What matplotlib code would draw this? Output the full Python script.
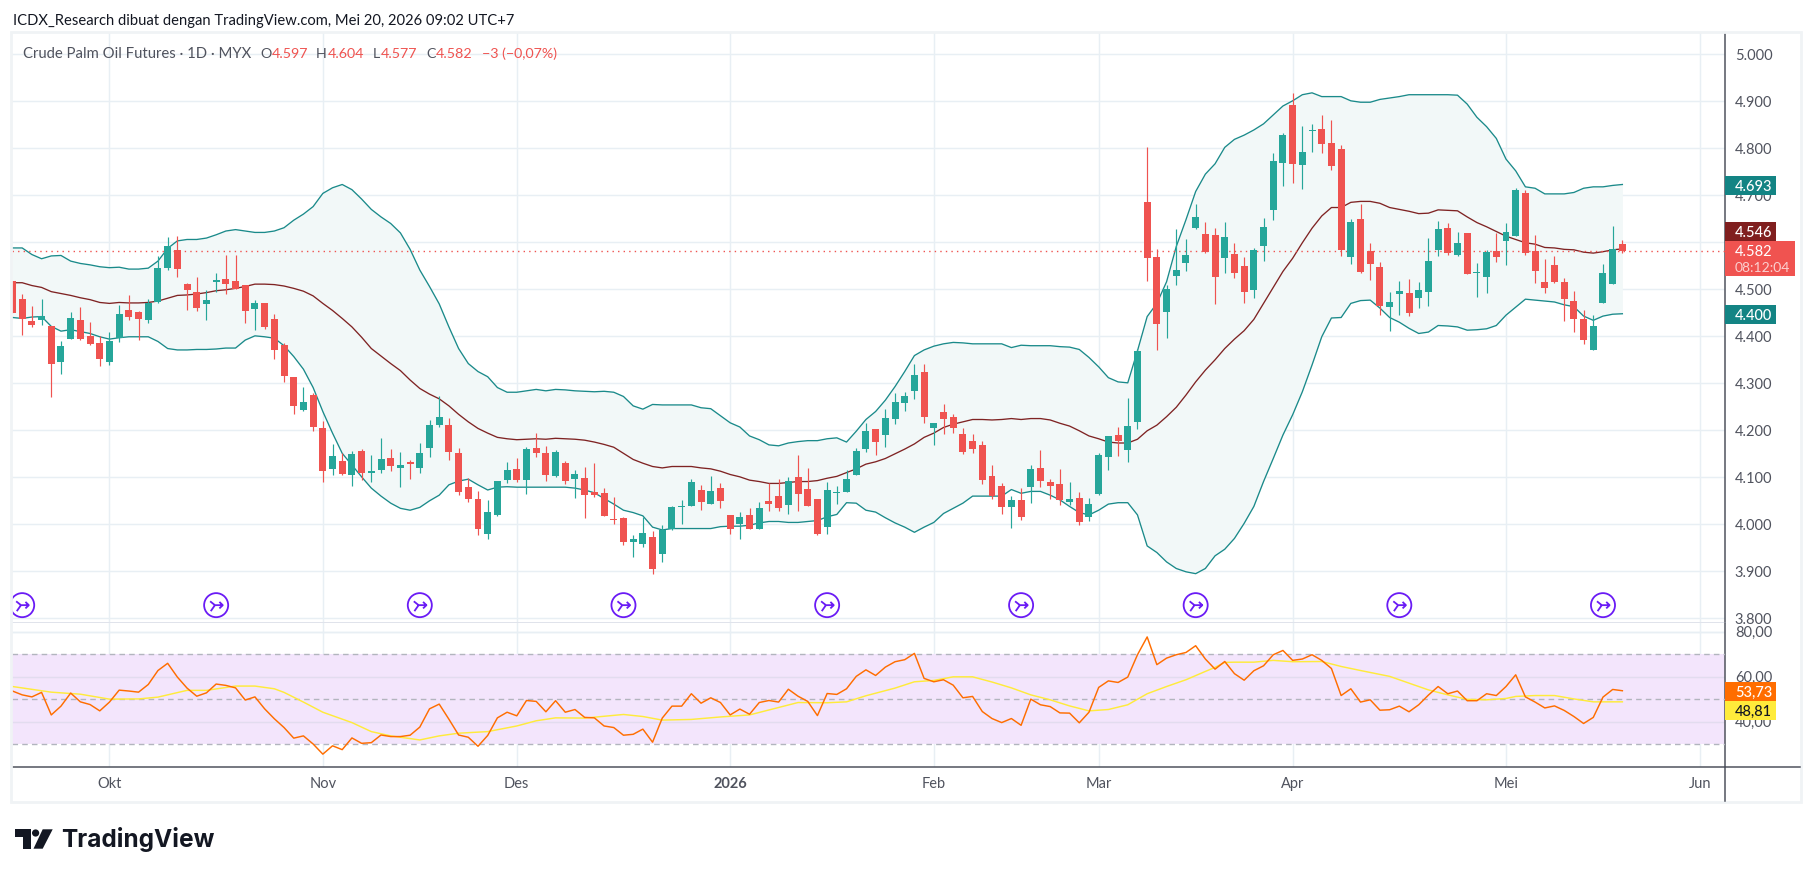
import numpy as np
import matplotlib
matplotlib.use("Agg")
from matplotlib import pyplot as plt
from matplotlib.path import Path
from matplotlib.patches import Rectangle, Polygon, Circle

plt.rcParams['font.family'] = ['Lato', 'DejaVu Sans']

# bar numbers: first (cut off) candle is -1, last one is 165
opens = [4.518,4.480,4.433,4.435,4.422,4.345,4.394,4.435,4.401,4.386,
    4.345,4.397,4.456,4.452,4.435,4.473,4.545,4.584,4.511,4.494,
    4.469,4.516,4.522,4.518,4.509,4.458,4.471,4.437,4.382,4.314,
    4.243,4.275,4.205,4.118,4.135,4.105,4.156,4.109,4.116,4.141,
    4.120,4.133,4.120,4.162,4.211,4.211,4.152,4.079,4.054,3.979,
    4.020,4.094,4.118,4.094,4.162,4.152,4.103,4.130,4.096,4.098,
    4.069,4.067,4.011,4.013,3.962,3.958,3.973,3.937,3.990,4.037,
    4.039,4.073,4.043,4.077,4.020,4.001,4.020,3.990,4.050,4.060,
    4.041,4.101,4.075,4.054,3.994,4.067,4.069,4.105,4.160,4.203,
    4.190,4.224,4.258,4.284,4.324,4.205,4.239,4.228,4.192,4.177,
    4.169,4.103,4.081,4.037,4.052,4.079,4.120,4.090,4.086,4.047,
    4.056,4.016,4.064,4.143,4.190,4.158,4.218,4.686,4.569,4.452,
    4.528,4.556,4.630,4.618,4.616,4.567,4.575,4.550,4.499,4.592,
    4.669,4.769,4.892,4.765,4.837,4.841,4.811,4.799,4.569,4.650,
    4.582,4.547,4.462,4.490,4.492,4.481,4.494,4.584,4.630,4.573,
    4.620,4.535,4.526,4.581,4.603,4.613,4.705,4.581,4.515,4.552,
    4.515,4.475,4.437,4.371,4.471,4.511,4.597]
highs = [4.518,4.490,4.465,4.480,4.422,4.390,4.452,4.463,4.431,4.401,
    4.409,4.467,4.488,4.454,4.480,4.571,4.611,4.614,4.514,4.526,
    4.499,4.535,4.573,4.573,4.509,4.477,4.471,4.448,4.386,4.314,
    4.292,4.279,4.220,4.171,4.152,4.156,4.160,4.147,4.184,4.160,
    4.154,4.137,4.173,4.222,4.273,4.226,4.162,4.098,4.071,4.052,
    4.092,4.133,4.141,4.165,4.194,4.167,4.158,4.135,4.116,4.122,
    4.130,4.077,4.058,4.015,3.977,4.015,3.986,3.998,4.039,4.052,
    4.096,4.084,4.103,4.088,4.020,4.026,4.035,4.047,4.088,4.096,
    4.101,4.147,4.120,4.054,4.090,4.082,4.116,4.162,4.216,4.203,
    4.245,4.279,4.281,4.341,4.341,4.216,4.256,4.235,4.205,4.192,
    4.177,4.126,4.088,4.060,4.077,4.126,4.158,4.096,4.118,4.090,
    4.069,4.056,4.152,4.188,4.207,4.269,4.373,4.803,4.586,4.509,
    4.628,4.607,4.682,4.643,4.631,4.643,4.599,4.569,4.588,4.652,
    4.790,4.833,4.918,4.848,4.852,4.871,4.860,4.807,4.650,4.682,
    4.599,4.558,4.494,4.518,4.522,4.515,4.609,4.645,4.641,4.622,
    4.620,4.556,4.584,4.620,4.641,4.716,4.711,4.616,4.564,4.571,
    4.524,4.496,4.456,4.445,4.554,4.635,4.604]
lows = [4.450,4.403,4.419,4.424,4.271,4.320,4.394,4.392,4.382,4.337,
    4.339,4.388,4.435,4.392,4.428,4.471,4.541,4.526,4.456,4.454,
    4.435,4.494,4.490,4.501,4.428,4.414,4.416,4.352,4.303,4.235,
    4.241,4.199,4.090,4.105,4.105,4.082,4.094,4.090,4.109,4.113,
    4.079,4.096,4.109,4.143,4.207,4.137,4.062,4.047,3.977,3.969,
    4.018,4.088,4.090,4.064,4.143,4.092,4.101,4.086,4.056,4.013,
    4.058,4.018,4.001,3.956,3.930,3.952,3.894,3.920,3.988,4.001,
    4.039,4.030,4.043,4.035,3.979,3.969,3.990,3.990,4.028,4.028,
    4.022,4.028,4.039,3.977,3.979,4.043,4.069,4.105,4.154,4.147,
    4.165,4.213,4.241,4.267,4.216,4.169,4.192,4.194,4.150,4.152,
    4.086,4.054,4.022,3.992,4.009,4.045,4.079,4.054,4.041,4.041,
    3.998,4.007,4.062,4.116,4.145,4.133,4.203,4.518,4.371,4.396,
    4.509,4.539,4.628,4.577,4.469,4.535,4.524,4.471,4.482,4.560,
    4.648,4.720,4.726,4.714,4.792,4.790,4.754,4.571,4.554,4.535,
    4.520,4.445,4.411,4.445,4.443,4.460,4.465,4.571,4.573,4.571,
    4.533,4.484,4.492,4.558,4.552,4.613,4.573,4.513,4.492,4.513,
    4.433,4.409,4.384,4.371,4.471,4.511,4.577]
closes = [4.450,4.436,4.424,4.443,4.341,4.380,4.439,4.394,4.384,4.352,
    4.390,4.448,4.441,4.437,4.471,4.545,4.592,4.543,4.499,4.460,
    4.477,4.520,4.511,4.501,4.454,4.471,4.420,4.371,4.316,4.252,
    4.260,4.207,4.113,4.145,4.107,4.150,4.109,4.113,4.139,4.124,
    4.126,4.128,4.152,4.211,4.228,4.154,4.069,4.054,3.990,4.026,
    4.092,4.116,4.094,4.160,4.152,4.105,4.154,4.092,4.107,4.062,
    4.062,4.018,4.009,3.962,3.969,3.981,3.905,3.988,4.037,4.040,
    4.090,4.047,4.071,4.050,3.990,4.016,3.990,4.035,4.043,4.035,
    4.092,4.064,4.039,3.979,4.073,4.069,4.096,4.156,4.198,4.175,
    4.226,4.260,4.273,4.318,4.228,4.216,4.224,4.205,4.154,4.160,
    4.094,4.060,4.037,4.052,4.016,4.118,4.092,4.081,4.052,4.054,
    4.005,4.043,4.147,4.188,4.177,4.209,4.369,4.567,4.426,4.501,
    4.541,4.573,4.654,4.579,4.526,4.611,4.535,4.494,4.584,4.633,
    4.773,4.828,4.767,4.792,4.839,4.809,4.762,4.584,4.643,4.537,
    4.554,4.464,4.473,4.496,4.450,4.498,4.560,4.628,4.577,4.598,
    4.533,4.537,4.579,4.569,4.622,4.711,4.577,4.539,4.503,4.515,
    4.479,4.437,4.392,4.422,4.535,4.586,4.582]

# bollinger bands
bb_upper = [4.588,4.588,4.574,4.565,4.571,4.572,4.560,4.555,4.552,4.548,
    4.546,4.547,4.543,4.543,4.545,4.560,4.587,4.603,4.606,4.606,
    4.609,4.616,4.624,4.627,4.624,4.621,4.621,4.624,4.631,4.647,
    4.660,4.676,4.704,4.716,4.723,4.712,4.692,4.670,4.654,4.640,
    4.620,4.585,4.541,4.506,4.469,4.420,4.374,4.342,4.325,4.314,
    4.291,4.281,4.281,4.284,4.287,4.284,4.287,4.286,4.284,4.283,
    4.282,4.283,4.281,4.272,4.252,4.245,4.255,4.254,4.254,4.254,
    4.254,4.248,4.246,4.231,4.216,4.207,4.188,4.180,4.169,4.167,
    4.173,4.176,4.178,4.178,4.182,4.184,4.175,4.198,4.223,4.240,
    4.264,4.293,4.325,4.359,4.371,4.379,4.384,4.387,4.386,4.384,
    4.384,4.384,4.384,4.376,4.381,4.380,4.380,4.380,4.378,4.377,
    4.372,4.355,4.335,4.312,4.303,4.301,4.369,4.442,4.470,4.516,
    4.591,4.648,4.708,4.745,4.767,4.802,4.819,4.828,4.839,4.852,
    4.871,4.890,4.901,4.914,4.918,4.910,4.910,4.910,4.901,4.898,
    4.898,4.904,4.907,4.910,4.914,4.914,4.914,4.914,4.914,4.913,
    4.894,4.866,4.846,4.821,4.777,4.752,4.718,4.715,4.703,4.703,
    4.703,4.706,4.715,4.718,4.718,4.721,4.723]
bb_basis = [4.514,4.514,4.508,4.504,4.495,4.491,4.487,4.482,4.478,4.472,
    4.470,4.472,4.471,4.471,4.472,4.475,4.481,4.487,4.488,4.490,
    4.493,4.497,4.499,4.502,4.506,4.511,4.511,4.510,4.507,4.502,
    4.496,4.486,4.470,4.455,4.438,4.420,4.398,4.374,4.358,4.342,
    4.327,4.307,4.289,4.277,4.267,4.252,4.234,4.218,4.204,4.194,
    4.185,4.182,4.180,4.181,4.182,4.181,4.183,4.182,4.181,4.179,
    4.175,4.170,4.164,4.151,4.138,4.130,4.123,4.120,4.123,4.123,
    4.123,4.120,4.118,4.113,4.106,4.101,4.094,4.091,4.087,4.087,
    4.089,4.091,4.091,4.093,4.098,4.102,4.110,4.118,4.128,4.133,
    4.140,4.150,4.160,4.171,4.185,4.194,4.206,4.213,4.218,4.223,
    4.223,4.222,4.223,4.225,4.223,4.225,4.225,4.222,4.215,4.209,
    4.199,4.188,4.182,4.175,4.173,4.173,4.181,4.199,4.211,4.229,
    4.249,4.275,4.303,4.328,4.350,4.374,4.394,4.412,4.436,4.470,
    4.504,4.538,4.566,4.599,4.630,4.656,4.674,4.674,4.685,4.687,
    4.687,4.683,4.674,4.670,4.666,4.661,4.662,4.669,4.668,4.667,
    4.654,4.642,4.633,4.623,4.613,4.606,4.599,4.596,4.589,4.588,
    4.585,4.584,4.579,4.577,4.580,4.584,4.586]
bb_lower = [4.440,4.438,4.441,4.442,4.421,4.411,4.414,4.410,4.406,4.399,
    4.394,4.397,4.399,4.399,4.399,4.389,4.374,4.371,4.371,4.372,
    4.372,4.373,4.375,4.375,4.392,4.401,4.399,4.396,4.380,4.357,
    4.330,4.291,4.240,4.194,4.151,4.126,4.101,4.077,4.060,4.045,
    4.034,4.030,4.036,4.050,4.062,4.084,4.092,4.096,4.084,4.073,
    4.079,4.080,4.079,4.079,4.079,4.079,4.079,4.079,4.077,4.073,
    4.067,4.055,4.043,4.030,4.025,4.018,3.994,3.988,3.991,3.991,
    3.991,3.991,3.991,3.995,3.996,3.996,3.998,4.003,4.006,4.006,
    4.004,4.004,4.006,4.008,4.016,4.021,4.046,4.045,4.030,4.026,
    4.014,4.003,3.994,3.983,3.994,4.004,4.023,4.034,4.045,4.060,
    4.060,4.060,4.060,4.074,4.066,4.070,4.070,4.062,4.052,4.038,
    4.025,4.020,4.030,4.043,4.046,4.046,4.020,3.954,3.940,3.920,
    3.906,3.899,3.895,3.906,3.933,3.947,3.970,4.002,4.038,4.091,
    4.140,4.190,4.233,4.282,4.339,4.399,4.439,4.440,4.470,4.476,
    4.477,4.460,4.440,4.430,4.417,4.406,4.409,4.423,4.422,4.420,
    4.413,4.414,4.416,4.423,4.445,4.462,4.479,4.477,4.475,4.473,
    4.467,4.463,4.443,4.434,4.443,4.447,4.448]

rsi = [53.6,51.9,51.0,53.0,43.0,46.9,52.7,48.8,47.6,44.8,
    48.7,54.0,53.6,53.1,56.5,62.7,65.9,59.8,54.9,51.3,
    52.8,56.7,56.1,55.0,49.6,51.0,45.7,41.3,37.4,32.7,
    33.7,30.1,25.6,29.3,27.6,32.8,30.4,30.7,34.1,33.4,
    33.4,34.0,37.6,45.7,47.8,41.1,34.1,33.1,29.1,33.9,
    41.7,44.2,42.6,49.4,49.0,44.4,49.3,44.2,45.4,41.9,
    41.7,38.1,37.4,34.0,34.4,36.7,30.9,41.6,46.9,46.9,
    52.4,48.2,50.6,48.5,43.0,45.6,43.3,48.5,49.4,48.7,
    54.4,51.3,49.0,42.7,52.5,52.1,54.6,60.1,63.0,60.5,
    64.2,66.6,67.5,70.3,59.2,57.7,58.6,56.2,50.6,51.2,
    44.5,41.4,39.6,41.4,38.4,50.0,47.5,46.7,43.9,43.8,
    39.5,44.2,55.2,58.1,57.4,59.8,69.7,77.6,65.3,68.2,
    69.7,70.7,73.7,67.8,63.3,66.7,61.3,58.4,62.6,64.8,
    69.7,71.6,67.2,67.8,69.7,67.2,63.6,51.6,54.6,48.7,
    49.7,45.1,45.3,46.9,44.4,47.5,51.8,55.6,52.4,53.6,
    49.3,49.3,52.4,51.6,55.6,60.8,51.0,48.7,46.1,47.0,
    45.0,42.3,39.2,41.9,50.9,54.3,53.73]

# rsi average, read at its bends
rsi_ma_bars = [-1,3,6,9,12,14,17,19,22,24,26,27,29,31,34,36,38,41,43,45,48,51,53,55,58,
    62,64,66,69,72,75,78,80,83,85,87,90,92,94,96,98,100,102,104,106,108,110,112,114,
    116,118,120,122,123,124,125,127,129,131,134,136,138,141,143,145,147,149,151,153,
    154,156,158,160,162,165]
rsi_ma = [55.6,53.1,52.2,50.0,50.1,50.9,53.9,53.9,55.8,55.8,54.6,53.0,48.7,44.2,39.6,35.6,33.7,31.9,33.7,34.9,35.6,38.1,40.4,41.7,41.6,
    43.2,42.3,40.7,41.0,42.1,43.0,46.3,48.5,48.4,48.8,51.5,54.9,57.7,58.3,59.9,59.9,57.6,55.0,51.9,49.7,47.0,44.8,45.4,47.5,
    52.4,55.6,58.6,62.3,64.1,66.3,66.4,66.4,67.2,66.6,66.7,64.5,62.7,60.1,57.1,54.1,51.9,49.9,49.7,50.3,
    51.2,51.6,51.6,50.1,48.8,48.81]

event_bars = [0,20,41,62,83,103,121,142,163]

month_bars = [9,31,51,73,94,111,131,153,173]
month_labels = ['Okt','Nov','Des','2026','Feb','Mar','Apr','Mei','Jun']
price_ticks = [3.8,3.9,4.0,4.1,4.2,4.3,4.4,4.5,4.6,4.7,4.8,4.9,5.0]
# 4.600 sits under the last price box on the original
price_labels = ['' if p == 4.6 else '%.3f' % p for p in price_ticks]
rsi_ticks = [40,60,80]
rsi_levels = [30,50,70]

W, H = 1814, 877
UP, DOWN = '#26a69a', '#ef5350'
TEAL, MAROON = '#1a8a8a', '#7f2323'
GRID = '#e8eff4'
AXIS = '#50535e'
TXT = '#50535e'

def px_axes(x0, y0, x1, y1):
    return fig.add_axes([x0 / W, 1 - y1 / H, (x1 - x0) / W, (y1 - y0) / H])

fig = plt.figure(figsize=(W / 100, H / 100), dpi=100, facecolor='white')
ax = px_axes(12, 33, 1724.5, 622.5)
ax2 = px_axes(12, 622.5, 1724.5, 767)

bars = np.arange(-1, 166)
opens, highs, lows, closes = map(np.array, (opens, highs, lows, closes))
colors = np.where(closes >= opens, UP, DOWN)

# price pane
ax.fill_between(bars, bb_lower, bb_upper, color='#f2f8f8', lw=0, zorder=1)
ax.set_axisbelow(True)
ax.grid(True, color=GRID, lw=1.05, zorder=2)
ax.plot(bars, bb_upper, color=TEAL, lw=0.95, zorder=3)
ax.plot(bars, bb_lower, color=TEAL, lw=0.95, zorder=3)
ax.plot(bars, bb_basis, color=MAROON, lw=0.95, zorder=3)
ax.axhline(closes[-1], color=DOWN, lw=1, ls=(0, (1, 3)), zorder=4)
ax.vlines(bars, lows, highs, colors=colors, lw=0.85, zorder=5)
ax.bar(bars, np.abs(closes - opens), bottom=np.minimum(opens, closes), width=0.72,
       color=colors, lw=0, zorder=6)

# event markers, circle with a merging arrow
arrow = Path([(-0.5, 0.32), (-0.1, 0), (0.55, 0), (0.27, 0.27), (0.55, 0), (0.27, -0.27), (-0.1, 0), (-0.45, -0.5)],
             [Path.MOVETO, Path.LINETO, Path.LINETO, Path.MOVETO, Path.LINETO, Path.LINETO, Path.MOVETO, Path.LINETO])
icon = Path.make_compound_path(Path.unit_circle(), arrow)
ax.scatter(event_bars, [3.828] * len(event_bars), marker=icon, s=300, facecolors='none',
           edgecolors='#6a1bf5', linewidths=1.3, zorder=7)

ax.set_xlim(-1.05, 175.53)
ax.set_ylim(3.7911, 5.0453)
ax.set_xticks(month_bars)
ax.set_yticks(price_ticks)
ax.set_yticklabels(price_labels)
ax.yaxis.tick_right()
ax.tick_params(axis='y', length=0, pad=7.5, labelsize=10.5, labelcolor=TXT)
ax.tick_params(axis='x', length=0, labelbottom=False)

# rsi pane
ax2.axhspan(30, 70, color='#f3e5fc', lw=0, zorder=1)
ax2.set_axisbelow(True)
ax2.grid(True, color=GRID, lw=1.05, zorder=2)
for t in rsi_ticks:
    ax2.axhline(t, color='#e2dcef' if t < 70 else GRID, lw=1.05, zorder=2)
for lv in rsi_levels:
    ax2.axhline(lv, color='#b2b5be', lw=1, ls=(0, (4, 3)), zorder=3)
ax2.plot(rsi_ma_bars, rsi_ma, color='#ffeb3b', lw=1.05, zorder=4)
ax2.plot(bars, rsi, color='#ff6d00', lw=1.05, zorder=5)
ax2.set_xlim(-1.05, 175.53)
ax2.set_ylim(19.9, 84.0)
ax2.set_yticks(rsi_ticks)
ax2.yaxis.set_major_formatter(plt.FuncFormatter(lambda v, p: ('%.2f' % v).replace('.', ',')))
ax2.yaxis.tick_right()
ax2.tick_params(axis='y', length=0, pad=7.5, labelsize=10.5, labelcolor=TXT)
ax2.set_xticks(month_bars)
ax2.set_xticklabels(month_labels)
ax2.tick_params(axis='x', length=0, pad=7.5, labelsize=10.5, labelcolor=TXT)
ax2.get_xticklabels()[3].set_fontweight('bold')

for a in (ax, ax2):
    for s in a.spines.values():
        s.set_visible(False)
    a.spines['right'].set_visible(True)
    a.spines['right'].set_color(AXIS)
    a.spines['right'].set_linewidth(1.1)
    for lb in a.get_yticklabels():
        lb.set_verticalalignment('center_baseline')
ax.spines['bottom'].set_visible(True)
ax.spines['bottom'].set_color('#e0e3eb')
ax.spines['bottom'].set_linewidth(1.4)
ax2.spines['bottom'].set_visible(True)
ax2.spines['bottom'].set_color(AXIS)
ax2.spines['bottom'].set_linewidth(1.1)

# overlay in pixel coordinates for header, value boxes and logo
ov = fig.add_axes([0, 0, 1, 1], zorder=10)
ov.set_xlim(0, W)
ov.set_ylim(H, 0)
ov.axis('off')
ov.add_patch(Rectangle((11, 32), 1790, 769.5, fill=False, ec='#f0f3f5', lw=2))
ov.plot([1724.5, 1724.5], [767, 801], color=AXIS, lw=1.1)
ov.plot([1724.5, 1800], [767, 767], color=AXIS, lw=1.1)

ov.text(13, 20.5, 'ICDX_Research dibuat dengan TradingView.com, Mei 20, 2026 09:02 UTC+7',
        fontsize=10.65, color='#131722', va='center')
ov.text(23, 53.5, 'Crude Palm Oil Futures · 1D · MYX', fontsize=10.7, color=TXT, va='center')
header = [(260.5, 'O', TXT), (272, '4.597', DOWN), (316, 'H', TXT), (328, '4.604', DOWN),
          (372.5, 'L', TXT), (381, '4.577', DOWN), (426, 'C', TXT), (436, '4.582', DOWN),
          (481.5, '−3 (−0,07%)', DOWN)]
for x, s, c in header:
    ov.text(x, 53.5, s, fontsize=10.3, color=c, va='center')

# value boxes on the axes: y span, right edge, colour, text
boxes = [(176, 194.7, 1776, '#138484', '4.693', 'white'),
         (222, 240.7, 1776, '#801f1f', '4.546', 'white'),
         (305, 324, 1776, '#138484', '4.400', 'white'),
         (682, 700.7, 1776, '#ff6d00', '53,73', 'white'),
         (700.7, 720, 1776, '#ffeb3b', '48,81', '#131722')]
for y0, y1, x1, c, s, tc in boxes:
    ov.add_patch(Rectangle((1725, y0), x1 - 1725, y1 - y0, color=c, lw=0))
    ov.text(1735, (y0 + y1) / 2, s, fontsize=10.5, color=tc, va='center_baseline', weight='medium')
ov.add_patch(Rectangle((1725, 241), 70, 35, color='#f05350', lw=0))
ov.text(1735, 250.7, '4.582', fontsize=10.5, color='white', va='center_baseline')
ov.text(1735, 267, '08:12:04', fontsize=10, color='#fbd0cf', va='center_baseline')

# logo
ov.add_patch(Polygon([(15.4, 829.3), (30.8, 829.3), (30.8, 848.7), (22.5, 848.7), (22.5, 836.7), (15.4, 836.7)],
                     color='#131722', lw=0))
ov.add_patch(Circle((35.6, 833), 3.6, color='#131722', lw=0))
ov.add_patch(Polygon([(42.7, 829.3), (52.7, 829.3), (42.7, 848.7), (33.5, 848.7)], color='#131722', lw=0))
ov.text(61.5, 839.5, 'TradingView', fontsize=17.6, color='#131722', va='center', weight='bold',
        family=['Inter', 'DejaVu Sans'])

fig.savefig('out.png', dpi=100)
